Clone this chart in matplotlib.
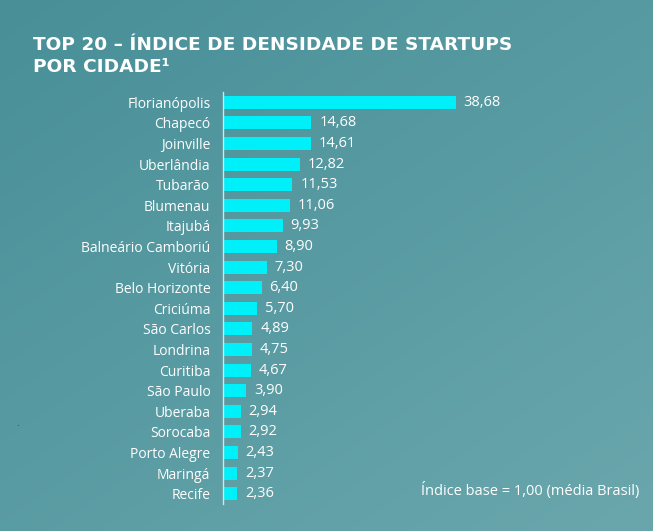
import numpy as np
import matplotlib
matplotlib.use("Agg")
import matplotlib.pyplot as plt

cities = ["Florianópolis", "Chapecó", "Joinville", "Uberlândia", "Tubarão",
          "Blumenau", "Itajubá", "Balneário Camboriú", "Vitória", "Belo Horizonte",
          "Criciúma", "São Carlos", "Londrina", "Curitiba", "São Paulo",
          "Uberaba", "Sorocaba", "Porto Alegre", "Maringá", "Recife"]
values = [38.68, 14.68, 14.61, 12.82, 11.53, 11.06, 9.93, 8.90, 7.30, 6.40,
          5.70, 4.89, 4.75, 4.67, 3.90, 2.94, 2.92, 2.43, 2.37, 2.36]

W, H = 653, 531
C_BAR = "#00F0FA"
FONT = ["Open Sans", "DejaVu Sans"]

fig = plt.figure(figsize=(W / 100, H / 100), dpi=100)

# background gradient
bg = fig.add_axes([0, 0, 1, 1])
yy, xx = np.mgrid[0:1:200j, 0:1:200j]
t = 0.55 * yy + 0.45 * xx
c0 = np.array([72, 143, 152]) / 255
c1 = np.array([106, 167, 173]) / 255
img = c0[None, None, :] * (1 - t[..., None]) + c1[None, None, :] * t[..., None]
bg.imshow(img, extent=[0, 1, 0, 1], aspect="auto", origin="upper")
bg.set_axis_off()

# chart axes: left edge at x=223px, bars 92..504px
px = 6.02
ax = fig.add_axes([223 / W, 1 - 504 / H, (W - 223) / W, 412 / H])
ax.patch.set_alpha(0)
y = np.arange(len(cities))
ax.barh(y, values, height=0.63, color=C_BAR)
ax.set_ylim(len(cities) - 0.5, -0.5)
ax.set_xlim(0, (W - 223) / px)
for v, yi in zip(values, y):
    ax.text(v + 1.3, yi, f"{v:.2f}".replace(".", ","), va="center", ha="left",
            color="white", fontsize=10.5, family=FONT)
ax.set_yticks(y)
ax.set_yticklabels(cities, color="white", fontsize=10, family=FONT)
ax.tick_params(axis="y", length=0, pad=9)
ax.set_xticks([])
for s in ["top", "right", "bottom"]:
    ax.spines[s].set_visible(False)
ax.spines["left"].set_color("#D6E4E6")
ax.spines["left"].set_linewidth(1)

fig.text(33 / W, 1 - 50 / H, "TOP 20 – ÍNDICE DE DENSIDADE DE STARTUPS",
         color="white", fontsize=13.3, fontweight="bold", family="DejaVu Sans", va="baseline")
fig.text(33 / W, 1 - 72 / H, "POR CIDADE¹",
         color="white", fontsize=13.3, fontweight="bold", family="DejaVu Sans", va="baseline")
fig.text(421 / W, 1 - 491 / H, "Índice base = 1,00 (média Brasil)",
         color="white", fontsize=10.5, family=FONT, va="center")
fig.text(16 / W, 1 - 423 / H, ".", color="#1a3a3a", fontsize=6, va="center")

fig.savefig("out.png", dpi=100)
